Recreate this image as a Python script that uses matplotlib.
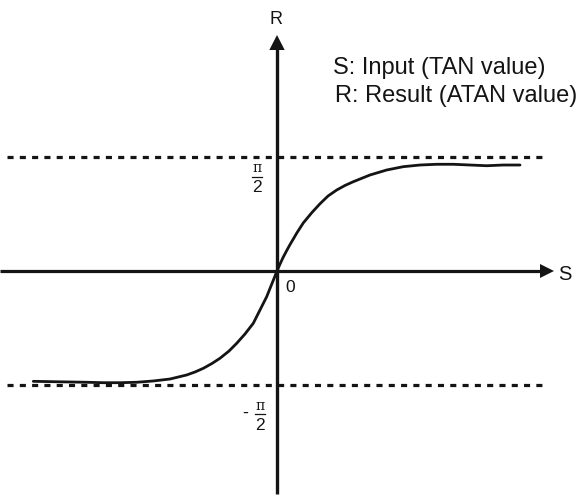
import numpy as np
import matplotlib
matplotlib.use("Agg")
import matplotlib.pyplot as plt
from matplotlib.patches import Polygon

# ---- data (S: input, R: result in radians) ----
s_values = [-4.874, -4.474, -4.14, -3.806, -3.474, -3.14, -2.806, -2.474, -2.14, -1.806,
            -1.64, -1.474, -1.3, -1.14, -0.96, -0.806, -0.64, -0.474, -0.34, -0.206,
            -0.12, -0.06, 0.0, 0.06, 0.12, 0.2, 0.26, 0.4, 0.526, 0.7,
            0.86, 1.02, 1.194, 1.36, 1.526, 1.86, 2.194, 2.526, 2.86, 3.194,
            3.526, 3.86, 4.194, 4.526, 4.86]
r_values = [-1.526, -1.531, -1.535, -1.539, -1.545, -1.545, -1.539, -1.521, -1.494, -1.438,
            -1.397, -1.346, -1.279, -1.207, -1.107, -1.0, -0.871, -0.723, -0.539, -0.355,
            -0.207, -0.104, 0.0, 0.095, 0.185, 0.29, 0.365, 0.53, 0.665, 0.81,
            0.93, 1.037, 1.12, 1.183, 1.235, 1.328, 1.397, 1.443, 1.466, 1.476,
            1.476, 1.466, 1.456, 1.466, 1.466]
asymptotes = [np.pi / 2, -np.pi / 2]
legend_lines = ["S: Input (TAN value)", "R: Result (ATAN value)"]

W, H = 581, 499
fig = plt.figure(figsize=(W / 100, H / 100), dpi=100)
ax = fig.add_axes([0, 0, 1, 1])
ax.axis("off")

X0, Y0 = 277, 271       # pixel position of origin
SX, SY = 50.0, 72.3     # pixels per unit
ax.set_xlim(-X0 / SX, (W - X0) / SX)
ax.set_ylim(-(H - Y0) / SY, Y0 / SY)


def P(px, py):
    return ((px - X0) / SX, (Y0 - py) / SY)


ink = "#141414"
font = "Liberation Sans"

# axes
x_a, _ = P(0, 271)
x_b, _ = P(543, 271)
ax.plot([x_a, x_b], [0, 0], color=ink, lw=2.3, solid_capstyle="butt", zorder=3)
ax.add_patch(Polygon([P(540, 264), P(540, 278), P(554, 271)], closed=True,
                     color=ink, lw=0, zorder=3))
_, yb = P(277, 494)
_, yt = P(277, 49)
ax.plot([0, 0], [yb, yt], color=ink, lw=2.4, solid_capstyle="butt", zorder=3)
ax.add_patch(Polygon([P(269.3, 50), P(284.7, 50), P(277, 35)], closed=True,
                     color=ink, lw=0, zorder=3))

# asymptotes
xd0, _ = P(7, 0)
xd1, _ = P(548, 0)
for a in asymptotes:
    ax.plot([xd0, xd1], [a, a], color=ink, lw=2.3, linestyle=(0, (1.9, 1.95)),
            dash_capstyle="butt", zorder=2)

# curve
ax.plot(s_values, r_values, color=ink, lw=2.0, solid_capstyle="round",
        solid_joinstyle="round", zorder=4)

# labels
ax.text(*P(276, 19), "R", fontsize=13, family=font, ha="center", va="center", color=ink)
ax.text(*P(565, 274), "S", fontsize=14.5, family=font, ha="center", va="center", color=ink)
ax.text(*P(290, 287), "0", fontsize=12.5, family=font, ha="center", va="center", color=ink)
ax.text(*P(333, 68), legend_lines[0], fontsize=17, family=font, ha="left", va="center", color=ink)
ax.text(*P(335, 96), legend_lines[1], fontsize=17, family=font, ha="left", va="center", color=ink)

# fraction labels pi/2 and -pi/2
def frac(cx, cy, minus=False):
    ax.text(*P(cx, cy - 8.5), "π", fontsize=10, family="DejaVu Serif", ha="center",
            va="center", color=ink)
    xl0, yl = P(cx - 5, cy)
    xl1, _ = P(cx + 5, cy)
    ax.plot([xl0, xl1], [yl, yl], color=ink, lw=0.9)
    ax.text(*P(cx, cy + 11), "2", fontsize=12.5, family=font, ha="center",
            va="center", color=ink)
    if minus:
        ax.text(*P(cx - 15, cy - 1), "-", fontsize=13, family=font, ha="center",
                va="center", color=ink)

frac(257, 177)
frac(260, 414, minus=True)

fig.savefig("out.png", dpi=100)
